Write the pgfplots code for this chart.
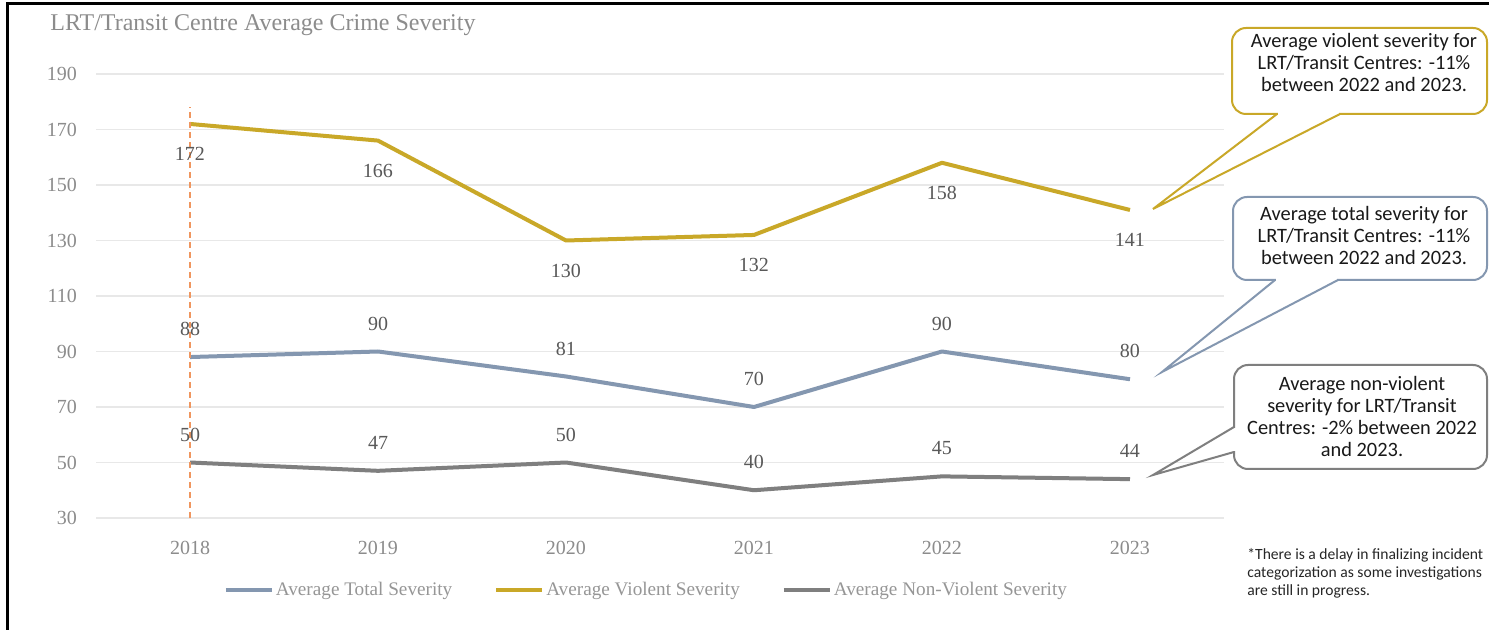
\documentclass[border=0pt]{standalone}
\usepackage{pgfplots}
\pgfplotsset{compat=1.18}
\usepackage{fontspec}
\setmainfont{Liberation Serif}
\newfontfamily\callfont{Carlito}

\definecolor{totc}{RGB}{132,151,176}
\definecolor{violc}{RGB}{201,168,40}
\definecolor{nonc}{RGB}{127,127,127}
\definecolor{dashc}{RGB}{240,150,95}
\definecolor{gridc}{RGB}{232,232,232}
\definecolor{tickc}{RGB}{140,140,140}
\definecolor{labc}{RGB}{89,89,89}
\definecolor{legc}{RGB}{150,150,150}

\begin{document}
\begin{tikzpicture}
\useasboundingbox (0,0) rectangle (744.5pt,-315pt);
\fill[white] (0,0) rectangle (744.5pt,-315pt);

\begin{axis}[
    at={(48pt,-259pt)}, anchor=south west,
    scale only axis, width=564pt, height=222pt,
    xmin=-0.5, xmax=5.5, ymin=30, ymax=190,
    xtick={0,1,2,3,4,5},
    xticklabels={2018,2019,2020,2021,2022,2023},
    ytick={30,50,...,190},
    ymajorgrids,
    major grid style={color=gridc, line width=0.7pt},
    axis line style={draw=none},
    major tick length=0pt,
    tick label style={font=\fontsize{10}{12}\selectfont, text=tickc},
    yticklabel style={xshift=-6pt},
    xticklabel style={yshift=-8pt},
    /pgf/number format/assume math mode=true,
    clip=false,
    legend columns=3,
    legend style={at={(0.488,-0.162)}, anchor=center, draw=none,
        font=\fontsize{9.6}{11}\selectfont, text=legc,
        nodes={inner sep=1pt},
        /tikz/every even column/.append style={column sep=20pt}},
    legend image code/.code={\draw[#1] (0pt,0pt) -- (23pt,0pt);},
    every axis plot/.append style={line width=2pt, line join=round},
    nodes near coords style={anchor=center, font=\fontsize{10}{12}\selectfont, text=labc},
]
\addplot[totc, nodes near coords, nodes near coords style={yshift=14pt}]
    coordinates {(0,88)(1,90)(2,81)(3,70)(4,90)(5,80)};
\addlegendentry{Average Total Severity}
\addplot[violc, nodes near coords, nodes near coords style={yshift=-15pt}]
    coordinates {(0,172)(1,166)(2,130)(3,132)(4,158)(5,141)};
\addlegendentry{Average Violent Severity}
\addplot[nonc, nodes near coords, nodes near coords style={yshift=14pt}]
    coordinates {(0,50)(1,47)(2,50)(3,40)(4,45)(5,44)};
\addlegendentry{Average Non-Violent Severity}
\addplot[dashc, line width=0.8pt, dash pattern=on 3pt off 2pt, forget plot]
    coordinates {(0,30)(0,178)};
\end{axis}

\begin{scope}[x=0.5pt, y=-0.5pt]
  % frame
  \draw[black, line width=1.2pt] (7.5,630) -- (7.5,3.7) -- (1489,3.7);
  % title
  \node[anchor=base west, inner sep=0pt, text=tickc, font=\fontsize{12}{14}\selectfont]
      at (50,31) {LRT/Transit Centre Average Crime Severity};

  % callout: violent
  \draw[violc, line width=1pt, fill=white, rounded corners=7pt] (1232,28) rectangle (1487,114);
  \draw[white, line width=1.6pt] (1278,114) -- (1339,114);
  \draw[violc, line width=1pt, line join=miter] (1277,114) -- (1153,209) -- (1340,114);
  \node[align=center, font=\callfont\fontsize{10.2}{11}\selectfont, text=black!90] at (1364,63)
      {Average violent severity for\\LRT/Transit Centres: -11\%\\between 2022 and 2023.};

  % callout: total
  \draw[totc, line width=1pt, fill=white, rounded corners=7pt] (1233,197) rectangle (1487,280);
  \draw[white, line width=1.6pt] (1276,280) -- (1337,280);
  \draw[totc, line width=1pt] (1275,280) -- (1162,372) -- (1338,280);
  \node[align=center, font=\callfont\fontsize{10.2}{11}\selectfont, text=black!90] at (1364,236)
      {Average total severity for\\LRT/Transit Centres: -11\%\\between 2022 and 2023.};

  % callout: non-violent
  \draw[nonc, line width=1pt, fill=white, rounded corners=7pt] (1234,365) rectangle (1487,469);
  \draw[white, line width=1.6pt] (1234,428) -- (1234,451);
  \draw[nonc, line width=1pt] (1234,427) -- (1153,475) -- (1234,452);
  \node[align=center, font=\callfont\fontsize{10.2}{11}\selectfont, text=black!90] at (1362,416)
      {Average non-violent\\severity for LRT/Transit\\Centres: -2\% between 2022\\and 2023.};

  % footnote
  \node[anchor=north west, align=left, inner sep=0pt, font=\callfont\fontsize{7.8}{9}\selectfont, text=black!85]
      at (1247,548)
      {*There is a delay in finalizing incident\\categorization as some investigations\\are still in progress.};
\end{scope}
\end{tikzpicture}
\end{document}
